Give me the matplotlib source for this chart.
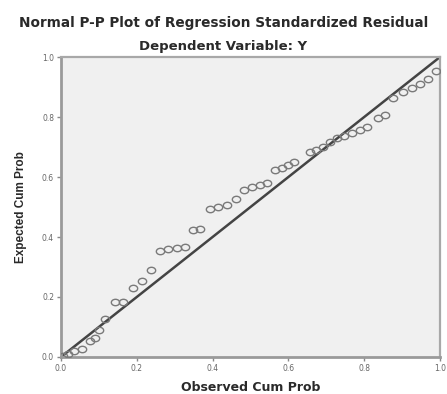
import matplotlib
matplotlib.use("Agg")
import matplotlib.pyplot as plt
from matplotlib.path import Path
from matplotlib.transforms import Affine2D

plt.rcParams['font.family'] = ['DejaVu Sans']

observed = [0.005, 0.018, 0.034, 0.055, 0.077, 0.090, 0.100, 0.116, 0.142, 0.164,
            0.190, 0.214, 0.237, 0.261, 0.282, 0.306, 0.327, 0.348, 0.367, 0.393,
            0.414, 0.438, 0.462, 0.483, 0.504, 0.525, 0.544, 0.565, 0.583, 0.599,
            0.615, 0.657, 0.673, 0.691, 0.710, 0.728, 0.747, 0.768, 0.789, 0.807,
            0.836, 0.855, 0.876, 0.902, 0.926, 0.947, 0.968, 0.989]
expected = [0.003, 0.010, 0.020, 0.027, 0.053, 0.063, 0.090, 0.127, 0.183, 0.183,
            0.230, 0.253, 0.290, 0.353, 0.360, 0.363, 0.367, 0.423, 0.427, 0.493,
            0.500, 0.507, 0.527, 0.557, 0.567, 0.573, 0.580, 0.623, 0.630, 0.640,
            0.650, 0.683, 0.690, 0.700, 0.717, 0.730, 0.737, 0.747, 0.757, 0.767,
            0.797, 0.807, 0.863, 0.883, 0.897, 0.910, 0.927, 0.953]
ticks = [0.0, 0.2, 0.4, 0.6, 0.8, 1.0]
tick_labels = ["0.0", "0.2", "0.4", "0.6", "0.8", "1.0"]

ellipse = Path.unit_circle().transformed(Affine2D().scale(1.3, 1.0))

fig = plt.figure(figsize=(4.47, 3.94), dpi=100)
fig.patch.set_facecolor('white')
ax = fig.add_axes([0.1365, 0.094, 0.8475, 0.761])
ax.set_facecolor('#f0f0f0')

ax.plot([0, 1], [0, 1], color='#444444', lw=1.8, zorder=2)
ax.plot(observed, expected, linestyle='none', marker=ellipse, markersize=6,
        markerfacecolor='none', markeredgecolor='#7a7a7a', markeredgewidth=1.0, zorder=3)

ax.set_xlim(0, 1)
ax.set_ylim(0, 1)
ax.set_xticks(ticks)
ax.set_xticklabels(tick_labels)
ax.set_yticks(ticks)
ax.set_yticklabels(tick_labels)
ax.tick_params(axis='both', labelsize=5.5, labelcolor='#666666', color='#888888',
               length=3, width=1, direction='out', pad=2)

for side in ['left', 'bottom']:
    ax.spines[side].set_color('#9a9a9a')
    ax.spines[side].set_linewidth(2.0)
for side in ['top', 'right']:
    ax.spines[side].set_color('#a8a8a8')
    ax.spines[side].set_linewidth(1.6)

ax.set_xlabel('Observed Cum Prob', fontsize=9, fontweight='bold', color='#2a2a2a', labelpad=6)
ax.set_ylabel('Expected Cum Prob', fontsize=8.5, fontweight='bold', color='#2a2a2a', labelpad=11,
              family='Liberation Sans')

fig.text(0.5, 0.942, 'Normal P-P Plot of Regression Standardized Residual',
         ha='center', va='center', fontsize=9.8, fontweight='bold', color='#2a2a2a')
fig.text(0.5, 0.881, 'Dependent Variable: Y',
         ha='center', va='center', fontsize=9.5, fontweight='bold', color='#2a2a2a')

fig.savefig('out.png', dpi=100, facecolor='white')
